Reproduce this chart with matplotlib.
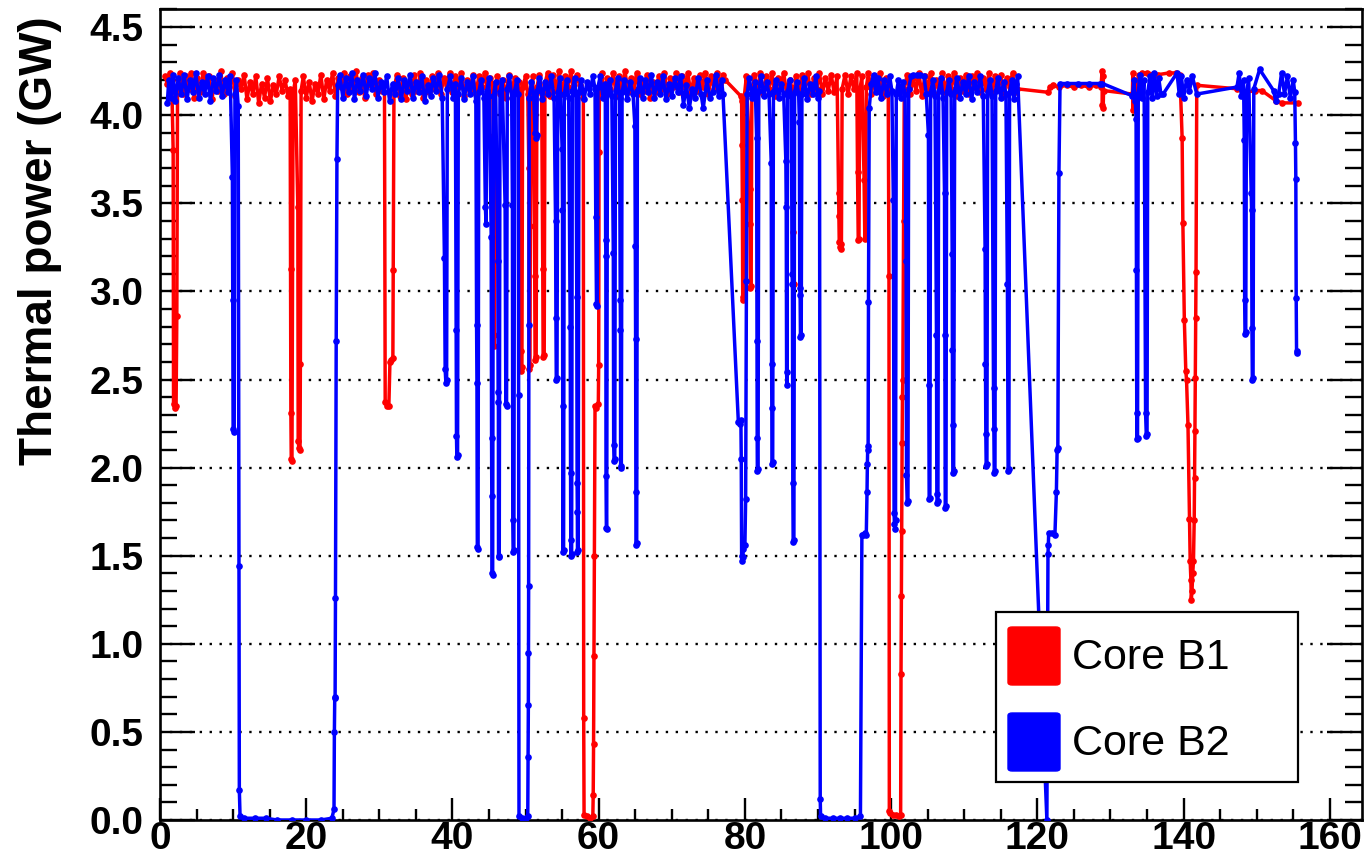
import numpy as np
import matplotlib
matplotlib.use('Agg')
import matplotlib.pyplot as plt
from matplotlib.patches import Rectangle, FancyBboxPatch
from matplotlib.ticker import MultipleLocator, FormatStrFormatter

# thermal power of the two cores, (day, GW)
core_b1 = [
    (0.7, 4.22), (1.0, 4.18), (1.3, 4.24), (1.6, 4.20),
    (1.8, 3.80), (1.85, 2.36), (2.0, 2.34), (2.2, 2.35), (2.3, 2.86), (2.4, 4.16),
    (2.7, 4.24), (3.1, 4.12), (3.5, 4.22), (3.9, 4.15), (4.3, 4.24), (4.7, 4.10), (5.1, 4.21),
    (5.5, 4.13), (5.9, 4.24), (6.3, 4.17), (6.7, 4.22), (7.1, 4.09), (7.5, 4.20), (7.9, 4.14),
    (8.3, 4.25), (8.7, 4.12), (9.1, 4.21), (9.5, 4.16), (9.9, 4.24), (10.3, 4.11), (10.7, 4.20),
    (11.1, 4.15), (11.5, 4.23), (11.9, 4.09), (12.3, 4.19), (12.7, 4.12), (13.1, 4.22), (13.5, 4.07),
    (13.9, 4.18), (14.3, 4.10), (14.7, 4.21), (15.1, 4.08), (15.5, 4.17), (15.9, 4.12), (16.3, 4.22),
    (16.7, 4.14), (17.1, 4.20), (17.5, 4.11),
    (17.8, 4.15), (17.85, 3.13), (17.9, 2.31), (17.95, 2.05), (18.05, 2.04), (18.2, 4.12),
    (18.5, 4.20), (18.85, 3.48), (18.9, 2.15), (19.0, 2.11), (19.15, 2.10), (19.2, 2.59), (19.3, 4.14),
    (19.6, 4.22), (20.0, 4.10), (20.4, 4.19), (20.8, 4.08), (21.2, 4.18), (21.6, 4.12), (22.0, 4.23),
    (22.4, 4.09), (22.8, 4.20), (23.2, 4.14), (23.6, 4.24), (24.0, 4.11), (24.4, 4.21), (24.8, 4.16),
    (25.2, 4.24), (25.6, 4.12), (26.0, 4.22), (26.4, 4.15), (26.8, 4.25), (27.2, 4.13), (27.6, 4.21),
    (28.0, 4.10), (28.4, 4.23), (28.8, 4.17), (29.2, 4.24), (29.6, 4.12), (30.0, 4.20), (30.4, 4.14),
    (30.7, 4.18), (30.8, 2.37), (31.0, 2.35), (31.3, 2.35), (31.45, 2.60), (31.6, 2.61), (31.85, 2.62),
    (31.9, 3.12), (32.0, 4.15),
    (32.4, 4.23), (32.8, 4.11), (33.2, 4.21), (33.6, 4.09), (34.0, 4.18), (34.4, 4.12), (34.8, 4.23),
    (35.2, 4.14), (35.6, 4.24), (36.0, 4.10), (36.4, 4.20), (36.8, 4.13), (37.2, 4.22), (37.6, 4.15),
    (38.0, 4.24), (38.4, 4.12), (38.8, 4.21), (39.2, 4.17), (39.6, 4.24), (40.0, 4.13), (40.4, 4.22),
    (40.8, 4.16), (41.2, 4.24), (41.6, 4.11), (42.0, 4.20), (42.4, 4.14), (42.8, 4.23), (43.2, 4.12),
    (43.6, 4.22), (44.0, 4.16), (44.4, 4.24), (44.8, 4.13), (45.2, 4.21),
    (45.5, 4.18), (45.6, 3.88), (45.65, 2.75), (45.7, 2.69), (45.8, 4.15),
    (46.1, 4.22), (46.5, 4.12), (46.9, 4.20), (47.3, 4.10), (47.7, 4.23), (48.1, 4.14), (48.5, 4.21),
    (48.9, 4.15), (49.1, 4.19),
    (49.25, 3.59), (49.3, 3.30), (49.35, 2.66), (49.4, 2.55), (49.5, 2.57), (49.6, 4.16),
    (50.0, 4.22), (50.3, 4.12), (50.45, 3.70), (50.5, 2.56), (50.6, 2.58), (50.7, 4.15),
    (51.0, 4.22), (51.2, 3.37), (51.25, 3.09), (51.3, 2.61), (51.45, 2.63), (51.55, 4.16),
    (51.9, 4.23), (52.2, 4.12), (52.35, 3.13), (52.4, 2.63), (52.55, 2.64), (52.65, 4.18),
    (53.0, 4.24), (53.4, 4.11), (53.8, 4.23), (54.2, 4.14), (54.6, 4.25), (55.0, 4.12), (55.4, 4.22),
    (55.8, 4.16), (56.2, 4.25), (56.6, 4.13), (57.0, 4.23), (57.4, 4.17),
    (57.9, 4.10), (57.95, 0.58), (58.0, 0.03), (58.4, 0.02), (58.8, 0.01), (59.2, 0.02), (59.25, 0.14),
    (59.3, 0.43), (59.35, 0.93), (59.4, 1.50), (59.5, 2.35), (59.7, 2.34), (59.95, 2.36), (60.0, 2.58),
    (60.05, 3.79), (60.1, 4.15),
    (60.4, 4.24), (60.8, 4.12), (61.2, 4.21), (61.6, 4.15), (62.0, 4.24), (62.4, 4.11), (62.8, 4.22),
    (63.2, 4.16), (63.6, 4.25), (64.0, 4.13), (64.4, 4.21), (64.8, 4.15), (65.2, 4.24), (65.6, 4.12),
    (65.8, 4.20), (66.2, 4.14), (66.6, 4.23), (67.0, 4.10), (67.4, 4.19), (67.8, 4.13), (68.2, 4.22),
    (68.6, 4.15), (69.0, 4.24), (69.4, 4.12), (69.8, 4.21), (70.2, 4.16), (70.6, 4.24), (71.0, 4.13),
    (71.4, 4.22), (71.8, 4.16), (72.2, 4.24), (72.6, 4.12), (73.0, 4.21), (73.4, 4.14), (73.8, 4.23),
    (74.2, 4.16), (74.6, 4.24), (75.0, 4.12), (75.4, 4.22), (75.8, 4.15), (76.2, 4.24), (76.6, 4.18),
    (77.0, 4.23), (77.3, 4.20),
    (79.4, 4.11), (79.55, 4.08), (79.6, 3.83), (79.65, 3.52), (79.7, 2.97), (79.8, 2.95), (79.9, 4.10),
    (80.2, 4.22), (80.6, 3.82), (80.65, 3.58), (80.7, 3.38), (80.75, 3.02), (80.85, 3.03), (80.95, 4.12),
    (81.3, 4.23), (81.7, 4.14), (82.1, 4.24), (82.5, 4.12), (82.9, 4.22), (83.3, 4.15), (83.7, 4.24),
    (84.1, 4.11), (84.5, 4.21), (84.9, 4.16), (85.3, 4.24), (85.7, 4.13), (86.1, 4.20), (86.5, 4.15),
    (86.6, 3.34), (86.65, 3.04), (86.75, 4.14), (87.0, 4.22), (87.4, 4.13), (87.8, 4.23), (88.2, 4.14),
    (88.6, 4.24), (89.0, 4.12), (89.4, 4.21), (89.8, 4.15), (90.2, 4.24), (90.6, 4.12), (91.0, 4.21),
    (91.4, 4.14), (91.8, 4.23), (92.2, 4.13), (92.6, 4.22),
    (92.8, 3.56), (92.85, 3.43), (92.9, 3.28), (93.0, 3.25), (93.1, 3.24), (93.2, 3.27), (93.3, 4.15),
    (93.7, 4.23), (94.1, 4.12), (94.5, 4.22), (94.9, 4.15), (95.3, 4.24), (95.4, 3.68), (95.5, 3.29),
    (95.6, 3.30), (95.7, 4.14), (96.0, 4.22), (96.3, 3.63), (96.4, 3.30), (96.5, 3.31), (96.6, 4.16),
    (96.9, 4.24), (97.3, 4.12), (97.7, 4.22), (98.1, 4.14), (98.5, 4.24), (98.9, 4.11), (99.3, 4.21),
    (99.6, 4.16),
    (99.7, 3.09), (99.75, 0.05), (99.9, 0.04), (100.3, 0.03), (100.7, 0.03), (101.1, 0.02), (101.3, 0.03),
    (101.35, 0.83), (101.4, 1.27), (101.45, 1.64), (101.5, 2.14), (101.55, 2.40), (101.6, 2.50),
    (101.7, 3.40), (101.8, 4.15),
    (102.2, 4.23), (102.6, 4.12), (103.0, 4.21), (103.4, 4.14), (103.8, 4.24), (104.2, 4.11), (104.6, 4.22),
    (105.0, 4.15), (105.4, 4.24), (105.8, 4.12), (106.2, 4.20), (106.6, 4.16), (107.0, 4.24), (107.4, 4.13),
    (107.8, 4.22), (108.2, 4.15), (108.6, 4.24), (109.0, 4.11), (109.4, 4.21), (109.8, 4.14), (110.2, 4.23),
    (110.6, 4.12), (111.0, 4.22), (111.4, 4.16), (111.8, 4.24), (112.2, 4.13), (112.6, 4.21), (113.0, 4.15),
    (113.4, 4.24), (113.8, 4.12), (114.2, 4.22), (114.6, 4.15), (115.0, 4.23), (115.4, 4.11), (115.8, 4.21),
    (116.2, 4.16), (116.6, 4.24), (117.0, 4.13), (117.2, 4.15),
    (121.5, 4.13), (121.7, 4.16), (122.2, 4.17), (123.0, 4.16), (124.0, 4.17), (125.0, 4.16),
    (126.0, 4.17), (127.0, 4.16), (128.0, 4.17), (128.7, 4.16),
    (128.85, 4.25), (128.9, 4.06), (128.95, 4.22), (129.0, 4.04), (129.05, 4.14),
    (133.0, 4.12), (133.05, 4.24), (133.1, 4.03), (133.2, 4.20), (133.4, 4.06), (133.6, 4.18),
    (133.9, 4.23), (134.3, 4.24), (135.0, 4.24), (136.5, 4.23), (138.0, 4.24), (139.0, 4.24), (139.5, 4.23),
    (139.8, 3.87), (139.9, 3.39), (140.1, 2.84), (140.3, 2.55), (140.4, 2.50), (140.6, 2.24), (140.8, 1.71),
    (140.9, 1.47), (141.0, 1.36), (141.05, 1.25), (141.15, 1.30), (141.25, 1.40), (141.35, 1.47),
    (141.45, 1.70), (141.5, 1.94), (141.55, 2.21), (141.6, 2.51), (141.65, 2.85), (141.7, 3.11),
    (141.8, 4.17),
    (147.3, 4.15), (148.5, 4.13), (149.8, 4.14), (150.7, 4.14), (152.7, 4.08), (153.5, 4.07), (155.6, 4.07),
]

core_b2 = [
    (1.0, 4.07), (1.2, 4.20), (1.5, 4.10), (1.8, 4.23), (2.1, 4.08), (2.5, 4.21), (2.9, 4.12),
    (3.3, 4.23), (3.7, 4.09), (4.1, 4.20), (4.5, 4.13), (4.9, 4.24), (5.3, 4.10), (5.7, 4.19),
    (6.1, 4.12), (6.5, 4.22), (6.9, 4.08), (7.3, 4.21), (7.7, 4.14), (8.1, 4.23), (8.5, 4.11),
    (8.9, 4.20), (9.3, 4.13), (9.6, 4.22),
    (9.9, 3.65), (9.95, 2.95), (10.0, 2.22), (10.15, 2.20), (10.25, 4.12), (10.45, 4.20),
    (10.7, 4.05), (10.8, 1.44), (10.85, 0.17), (10.95, 0.02), (11.5, 0.01), (13.0, 0.01), (14.5, 0.01),
    (16.0, 0.0), (18.0, 0.0), (20.0, 0.0), (22.0, 0.0), (23.5, 0.01), (23.8, 0.06), (23.85, 0.50),
    (23.9, 0.69), (23.95, 0.70), (24.0, 1.26), (24.1, 2.72), (24.2, 3.75), (24.3, 4.17),
    (24.6, 4.23), (25.0, 4.10), (25.4, 4.21), (25.8, 4.13), (26.2, 4.24), (26.6, 4.09), (27.0, 4.20),
    (27.4, 4.14), (27.8, 4.23), (28.2, 4.11), (28.6, 4.21), (29.0, 4.15), (29.4, 4.24), (29.8, 4.10),
    (30.2, 4.19), (30.6, 4.13), (31.0, 4.22), (31.4, 4.08), (31.8, 4.18), (32.2, 4.12), (32.6, 4.21),
    (33.0, 4.09), (33.4, 4.20), (33.8, 4.14), (34.2, 4.23), (34.6, 4.10), (35.0, 4.19), (35.4, 4.13),
    (35.8, 4.22), (36.2, 4.08), (36.6, 4.17), (37.0, 4.11), (37.4, 4.21), (37.8, 4.14), (38.2, 4.23),
    (38.6, 4.10),
    (38.9, 3.19), (39.0, 2.56), (39.1, 2.48), (39.2, 2.50), (39.3, 4.15), (39.7, 4.22), (40.1, 4.10),
    (40.4, 4.18), (40.5, 2.78), (40.55, 2.18), (40.6, 2.06), (40.7, 2.07), (40.8, 4.12), (41.2, 4.21),
    (41.6, 4.09), (42.0, 4.19), (42.4, 4.12), (42.8, 4.22), (43.2, 4.08),
    (43.3, 2.81), (43.35, 2.48), (43.4, 1.55), (43.5, 1.54), (43.6, 4.13), (43.9, 4.20), (44.3, 4.10),
    (44.5, 3.48), (44.6, 3.38), (44.7, 4.14), (45.0, 4.21),
    (45.3, 3.31), (45.35, 2.17), (45.38, 1.84), (45.4, 1.40), (45.5, 1.39), (45.6, 4.11), (45.9, 4.19),
    (46.2, 3.17), (46.25, 2.43), (46.28, 2.37), (46.3, 1.50), (46.4, 1.49), (46.5, 4.13), (46.8, 4.20),
    (47.2, 3.49), (47.3, 2.36), (47.4, 2.35), (47.5, 4.15), (47.8, 4.22), (48.1, 4.10),
    (48.2, 3.49), (48.25, 1.70), (48.3, 1.52), (48.4, 1.53), (48.5, 4.14), (48.8, 4.20),
    (49.0, 4.12), (49.05, 2.41), (49.1, 0.02), (49.5, 0.01), (50.0, 0.01), (50.3, 0.02), (50.35, 0.36),
    (50.38, 0.65), (50.4, 0.95), (50.42, 1.33), (50.45, 2.81), (50.5, 4.10),
    (50.8, 4.19), (51.1, 4.12), (51.3, 3.90), (51.4, 3.87), (51.5, 3.89), (51.6, 4.14), (51.9, 4.21),
    (52.3, 4.09), (52.7, 4.19), (53.1, 4.12), (53.5, 4.22), (53.9, 4.10),
    (54.1, 3.40), (54.15, 2.85), (54.2, 2.50), (54.3, 2.51), (54.4, 4.13), (54.7, 4.21),
    (55.0, 3.81), (55.05, 3.46), (55.08, 2.35), (55.1, 1.52), (55.2, 1.53), (55.3, 4.12), (55.6, 4.20),
    (55.9, 4.10), (56.1, 2.80), (56.15, 1.97), (56.18, 1.59), (56.2, 1.50), (56.3, 1.51), (56.4, 4.14),
    (56.7, 4.21), (56.9, 4.12), (57.0, 2.97), (57.05, 1.91), (57.08, 1.75), (57.1, 1.52), (57.2, 1.53),
    (57.3, 4.13), (57.6, 4.20), (58.0, 4.09), (58.4, 4.19), (58.8, 4.12), (59.2, 4.22), (59.5, 4.15),
    (59.6, 3.42), (59.7, 2.93), (59.8, 2.92), (59.9, 4.16), (60.2, 4.22), (60.6, 4.10), (60.9, 4.18),
    (60.95, 3.29), (60.98, 3.20), (61.0, 1.95), (61.05, 1.66), (61.1, 1.65), (61.2, 4.12), (61.5, 4.20),
    (61.8, 4.11), (62.0, 3.22), (62.05, 2.13), (62.1, 2.04), (62.2, 2.05), (62.3, 4.14), (62.6, 4.21),
    (62.85, 4.10), (62.95, 2.95), (62.98, 2.78), (63.0, 2.00), (63.1, 2.01), (63.2, 4.13), (63.5, 4.20),
    (63.9, 4.09), (64.3, 4.19), (64.7, 4.12),
    (64.95, 3.94), (65.0, 3.26), (65.05, 2.73), (65.08, 1.86), (65.1, 1.56), (65.2, 1.57), (65.3, 4.14),
    (65.6, 4.21), (66.0, 4.10), (66.4, 4.20), (66.8, 4.13), (67.2, 4.23), (67.6, 4.10), (68.0, 4.19),
    (68.4, 4.12), (68.8, 4.22), (69.2, 4.09), (69.6, 4.18), (70.0, 4.11), (70.4, 4.21), (70.8, 4.13),
    (71.2, 4.22), (71.6, 4.06), (72.0, 4.17), (72.4, 4.04), (72.8, 4.15), (73.2, 4.10), (73.6, 4.21),
    (74.0, 4.12), (74.3, 4.04), (74.8, 4.20), (75.2, 4.10), (75.6, 4.13), (76.0, 4.23), (76.4, 4.11),
    (76.8, 4.20), (77.0, 4.12),
    (79.1, 2.26), (79.3, 2.25), (79.45, 2.27), (79.5, 2.05), (79.55, 1.50), (79.6, 1.47), (79.7, 1.49),
    (79.8, 1.54), (80.0, 1.56), (80.1, 1.82), (80.2, 3.06), (80.3, 4.12),
    (80.6, 4.21), (81.0, 4.10), (81.4, 4.19),
    (81.6, 3.87), (81.65, 2.72), (81.68, 2.17), (81.7, 1.98), (81.8, 1.99), (81.9, 4.14), (82.2, 4.22),
    (82.6, 4.11), (83.0, 4.19), (83.3, 4.12),
    (83.6, 3.73), (83.65, 2.59), (83.68, 2.34), (83.7, 2.02), (83.8, 2.03), (83.9, 4.13), (84.2, 4.20),
    (84.6, 4.10), (85.0, 4.18), (85.3, 4.12),
    (85.6, 3.74), (85.65, 3.48), (85.7, 2.54), (85.75, 2.47), (85.85, 4.14), (86.1, 4.20), (86.35, 4.11),
    (86.45, 3.10), (86.5, 3.04), (86.55, 1.91), (86.6, 1.58), (86.7, 1.59), (86.8, 4.13), (87.1, 4.19),
    (87.35, 4.12), (87.45, 3.96), (87.5, 3.02), (87.55, 2.98), (87.6, 2.74), (87.7, 2.75), (87.8, 4.12),
    (88.1, 4.21), (88.5, 4.09), (88.9, 4.18), (89.3, 4.12), (89.7, 4.22), (90.0, 4.10), (90.2, 4.14),
    (90.3, 0.12), (90.35, 0.02), (91.0, 0.01), (92.0, 0.01), (93.0, 0.01), (94.0, 0.01), (95.0, 0.01),
    (95.8, 0.02), (96.0, 1.62), (96.2, 1.62), (96.4, 1.63), (96.6, 1.62), (96.7, 1.86), (96.75, 2.02),
    (96.8, 2.12), (96.85, 2.10), (96.9, 2.94), (97.0, 4.04), (97.3, 4.18), (97.6, 4.23), (97.9, 4.13),
    (98.2, 4.21), (98.6, 4.10), (99.0, 4.20), (99.4, 4.12), (99.8, 4.22), (100.1, 4.14),
    (100.3, 3.52), (100.4, 1.74), (100.45, 1.68), (100.5, 1.65), (100.6, 1.70), (100.7, 4.12),
    (101.0, 4.20), (101.3, 4.10), (101.6, 4.19), (101.9, 4.12),
    (102.0, 3.40), (102.05, 3.17), (102.1, 1.96), (102.2, 1.80), (102.3, 1.81), (102.4, 4.15),
    (102.7, 4.22), (103.0, 4.23), (103.5, 4.23), (104.0, 4.23), (104.5, 4.22), (104.8, 4.12),
    (105.1, 3.89), (105.15, 2.47), (105.2, 1.82), (105.3, 1.83), (105.4, 4.13), (105.7, 4.20),
    (106.0, 4.11), (106.2, 2.75), (106.25, 1.85), (106.3, 1.80), (106.4, 1.81), (106.5, 4.14),
    (106.8, 4.21), (107.1, 4.10), (107.3, 3.56), (107.35, 2.75), (107.4, 1.77), (107.5, 1.78),
    (107.6, 4.13), (107.9, 4.20), (108.2, 4.12), (108.35, 3.21), (108.38, 2.67), (108.4, 2.24),
    (108.45, 1.97), (108.55, 1.98), (108.7, 4.14), (109.0, 4.21), (109.4, 4.10), (109.8, 4.19),
    (110.2, 4.12), (110.6, 4.22), (111.0, 4.09), (111.4, 4.19), (111.8, 4.13), (112.2, 4.22),
    (112.6, 4.11), (112.85, 3.24), (112.9, 2.59), (112.95, 2.19), (113.0, 2.01), (113.1, 2.02),
    (113.2, 4.13), (113.5, 4.20), (113.8, 4.11), (114.0, 2.45), (114.05, 2.22), (114.1, 1.97),
    (114.2, 1.98), (114.3, 4.14), (114.6, 4.21), (115.0, 4.10), (115.4, 4.19), (115.7, 4.12),
    (115.9, 3.04), (116.0, 1.98), (116.1, 1.99), (116.2, 4.13), (116.5, 4.20), (116.8, 4.09),
    (117.1, 4.18), (117.3, 4.22),
    (121.3, 0.0), (121.45, 1.51), (121.5, 1.56), (121.55, 1.63), (122.0, 1.63), (122.4, 1.62),
    (122.6, 1.86), (122.7, 2.10), (122.8, 2.11), (122.95, 3.67), (123.1, 4.18),
    (124.0, 4.18), (125.5, 4.18), (127.0, 4.18), (128.5, 4.18), (128.9, 4.18),
    (133.0, 4.11), (133.2, 4.20), (133.4, 4.08),
    (133.5, 3.98), (133.55, 3.12), (133.58, 2.31), (133.6, 2.16), (133.7, 2.17), (133.8, 4.12),
    (134.0, 4.23), (134.3, 4.10), (134.6, 4.20),
    (134.8, 2.31), (134.9, 2.18), (135.0, 2.19), (135.1, 4.13), (135.4, 4.22), (135.7, 4.10),
    (136.0, 4.24), (136.3, 4.11), (136.6, 4.21), (136.9, 4.12), (137.2, 4.12),
    (139.1, 4.24), (139.4, 4.12), (139.7, 4.22), (140.0, 4.10), (140.4, 4.20), (140.8, 4.14),
    (141.2, 4.22), (141.8, 4.12),
    (147.3, 4.16), (147.6, 4.24), (147.9, 4.11), (148.2, 4.20),
    (148.3, 3.86), (148.35, 2.95), (148.4, 2.76), (148.5, 2.77), (148.6, 4.12), (148.9, 4.21),
    (149.25, 3.56), (149.3, 3.46), (149.35, 2.79), (149.4, 2.50), (149.5, 2.51), (149.6, 4.15),
    (150.4, 4.26), (152.3, 4.14), (152.6, 4.08), (153.0, 4.12), (153.4, 4.24), (153.8, 4.12),
    (154.2, 4.22), (154.6, 4.10), (155.0, 4.20), (155.2, 4.13),
    (155.3, 3.84), (155.35, 3.64), (155.4, 2.96), (155.45, 2.65), (155.5, 2.66),
]

series_names = ['Core B1', 'Core B2']
series_colors = ['#ff0000', '#0000ff']

plt.rcParams['font.family'] = ['Liberation Sans', 'DejaVu Sans']

W, H = 1371, 859
fig = plt.figure(figsize=(W / 100, H / 100), dpi=100)
ax = fig.add_axes([160 / W, 1 - 820 / H, (1362 - 160) / W, (820 - 9.5) / H])

for pts, col in zip((core_b1, core_b2), series_colors):
    t, p = np.array(pts).T
    ax.plot(t, p, color=col, lw=2.5, marker='o', ms=4.8, mew=0, zorder=3)

ax.set_xlim(0, 164.4)
ax.set_ylim(0, 4.6)
ax.xaxis.set_major_locator(MultipleLocator(20))
ax.xaxis.set_minor_locator(MultipleLocator(5))
ax.yaxis.set_major_locator(MultipleLocator(0.5))
ax.yaxis.set_minor_locator(MultipleLocator(0.1))
ax.yaxis.set_major_formatter(FormatStrFormatter('%.1f'))

ax.yaxis.grid(True, which='major', color='black', lw=1.7, linestyle=(0, (1, 3.2)))
ax.set_axisbelow(True)

ax.tick_params(axis='y', which='major', direction='in', length=25, width=1.7,
               right=True, labelsize=28, pad=12)
ax.tick_params(axis='y', which='minor', direction='in', length=12, width=1.7, right=True)
ax.tick_params(axis='x', which='major', direction='in', length=16, width=1.7,
               labelsize=28, pad=1)
ax.tick_params(axis='x', which='minor', direction='in', length=8, width=1.7)
for lbl in ax.get_xticklabels() + ax.get_yticklabels():
    lbl.set_fontweight('bold')
for s in ax.spines.values():
    s.set_linewidth(1.9)

fig.text(40 / W, 1 - 16 / H, 'Thermal power (GW)', rotation=90, ha='center', va='top',
         fontsize=33, fontweight='bold')

# legend box, placed in figure pixels
fig.patches.append(Rectangle((996 / W, 1 - 782 / H), 302 / W, 170 / H, transform=fig.transFigure,
                             facecolor='white', edgecolor='black', lw=1.6, zorder=10))
for i, (name, col) in enumerate(zip(series_names, series_colors)):
    top = 627 + i * 86
    fig.patches.append(FancyBboxPatch((1008 / W, 1 - (top + 58) / H), 52 / W, 58 / H,
                                      boxstyle='round,pad=0,rounding_size=0.003',
                                      transform=fig.transFigure, facecolor=col,
                                      edgecolor=col, lw=1, zorder=11))
    fig.text(1072 / W, 1 - (top + 31) / H, name, fontsize=31, va='center', ha='left', zorder=12)

fig.savefig('out.png', dpi=100)
